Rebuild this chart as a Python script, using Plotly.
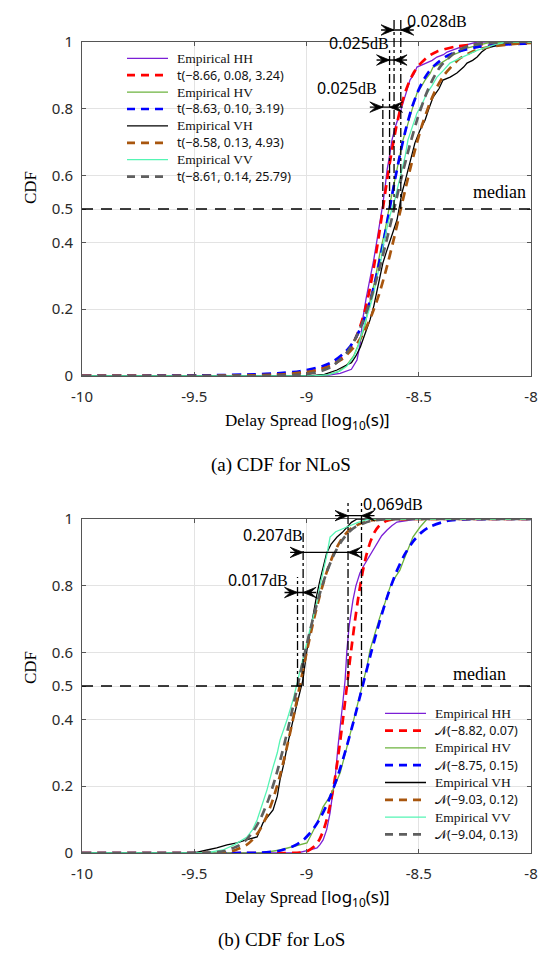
import plotly.graph_objects as go

W, H = 546, 958
SERIF = "Liberation Serif"
SANS = "Noto Sans"

# ---------------- data: NLoS (top) ----------------
nlos_hh_emp_x = [-10, -8.98, -8.90, -8.85, -8.80, -8.785, -8.775, -8.76, -8.75, -8.735, -8.717, -8.70, -8.686, -8.67, -8.66, -8.65, -8.641, -8.63, -8.619, -8.605, -8.592, -8.58, -8.570, -8.555, -8.539, -8.52, -8.508, -8.49, -8.463, -8.44, -8.419, -8.39, -8.374, -8.34, -8.316, -8.28, -8.24, -8.0]
nlos_hh_emp_y = [0, 0, 0.003, 0.008, 0.02, 0.035, 0.048, 0.10, 0.168, 0.23, 0.287, 0.35, 0.407, 0.47, 0.515, 0.565, 0.617, 0.66, 0.707, 0.745, 0.775, 0.795, 0.817, 0.85, 0.886, 0.905, 0.925, 0.93, 0.937, 0.945, 0.955, 0.962, 0.97, 0.978, 0.985, 0.993, 1.0, 1.0]
nlos_hh_fit_x = [-10, -9.46, -9.30, -9.14, -9.06, -8.98, -8.90, -8.86, -8.82, -8.80, -8.78, -8.76, -8.74, -8.72, -8.70, -8.68, -8.66, -8.64, -8.62, -8.60, -8.58, -8.56, -8.54, -8.52, -8.50, -8.46, -8.42, -8.34, -8.26, -8.18, -8.02, -8.0]
nlos_hh_fit_y = [0.0003, 0.001, 0.002, 0.005, 0.008, 0.014, 0.029, 0.044, 0.070, 0.089, 0.115, 0.150, 0.195, 0.254, 0.326, 0.409, 0.5, 0.591, 0.674, 0.746, 0.805, 0.850, 0.885, 0.911, 0.930, 0.956, 0.971, 0.986, 0.992, 0.995, 0.998, 0.998]

nlos_hv_emp_x = [-10, -8.97, -8.90, -8.86, -8.82, -8.79, -8.76, -8.74, -8.726, -8.71, -8.695, -8.673, -8.65, -8.63, -8.615, -8.597, -8.585, -8.570, -8.555, -8.539, -8.52, -8.508, -8.49, -8.472, -8.45, -8.436, -8.41, -8.392, -8.37, -8.347, -8.31, -8.285, -8.24, -8.196, -8.15, -8.11, -8.0]
nlos_hv_emp_y = [0, 0, 0.005, 0.012, 0.033, 0.06, 0.108, 0.15, 0.198, 0.24, 0.287, 0.368, 0.437, 0.51, 0.56, 0.617, 0.66, 0.707, 0.74, 0.775, 0.815, 0.847, 0.865, 0.886, 0.905, 0.925, 0.933, 0.94, 0.95, 0.961, 0.972, 0.982, 0.99, 0.997, 0.999, 1.0, 1.0]
nlos_hv_fit_x = [-10, -9.63, -9.43, -9.23, -9.13, -9.03, -8.93, -8.88, -8.83, -8.805, -8.78, -8.755, -8.73, -8.705, -8.68, -8.655, -8.63, -8.605, -8.58, -8.555, -8.53, -8.505, -8.48, -8.455, -8.43, -8.38, -8.33, -8.23, -8.13, -8.03, -8.0]
nlos_hv_fit_y = [0.0005, 0.001, 0.002, 0.005, 0.008, 0.014, 0.029, 0.044, 0.070, 0.089, 0.115, 0.150, 0.195, 0.254, 0.326, 0.409, 0.5, 0.591, 0.674, 0.746, 0.805, 0.850, 0.885, 0.911, 0.930, 0.956, 0.971, 0.986, 0.992, 0.995, 0.996]

nlos_vh_emp_x = [-10, -8.985, -8.92, -8.864, -8.83, -8.80, -8.78, -8.76, -8.74, -8.717, -8.70, -8.686, -8.67, -8.66, -8.645, -8.628, -8.61, -8.597, -8.585, -8.575, -8.56, -8.548, -8.53, -8.517, -8.495, -8.472, -8.455, -8.436, -8.41, -8.392, -8.36, -8.33, -8.30, -8.285, -8.26, -8.24, -8.22, -8.196, -8.15, -8.107, -8.06, -8.02, -8.0]
nlos_vh_emp_y = [0, 0, 0.005, 0.018, 0.03, 0.04, 0.06, 0.087, 0.125, 0.168, 0.21, 0.257, 0.30, 0.338, 0.37, 0.407, 0.44, 0.467, 0.51, 0.548, 0.585, 0.617, 0.66, 0.698, 0.735, 0.766, 0.80, 0.835, 0.86, 0.886, 0.895, 0.907, 0.925, 0.937, 0.945, 0.955, 0.97, 0.982, 0.99, 0.997, 0.999, 1.0, 1.0]
nlos_vh_fit_x = [-10, -9.36, -9.23, -9.10, -8.97, -8.905, -8.84, -8.775, -8.7425, -8.71, -8.6775, -8.645, -8.6125, -8.58, -8.5475, -8.515, -8.4825, -8.45, -8.4175, -8.385, -8.32, -8.255, -8.19, -8.06, -8.0]
nlos_vh_fit_y = [0.0001, 0.001, 0.002, 0.005, 0.015, 0.027, 0.051, 0.097, 0.133, 0.182, 0.243, 0.319, 0.406, 0.5, 0.594, 0.681, 0.757, 0.818, 0.867, 0.903, 0.949, 0.973, 0.985, 0.995, 0.997]

nlos_vv_emp_x = [-10, -8.97, -8.90, -8.85, -8.82, -8.79, -8.77, -8.75, -8.735, -8.717, -8.70, -8.686, -8.67, -8.66, -8.637, -8.62, -8.606, -8.59, -8.575, -8.56, -8.548, -8.53, -8.508, -8.485, -8.463, -8.44, -8.419, -8.39, -8.361, -8.32, -8.285, -8.24, -8.196, -8.15, -8.107, -8.0]
nlos_vv_emp_y = [0, 0, 0.004, 0.015, 0.03, 0.057, 0.09, 0.138, 0.17, 0.207, 0.25, 0.297, 0.34, 0.386, 0.458, 0.50, 0.53, 0.575, 0.617, 0.66, 0.707, 0.745, 0.787, 0.815, 0.847, 0.87, 0.895, 0.915, 0.937, 0.95, 0.961, 0.975, 0.985, 0.994, 1.0, 1.0]
nlos_vv_fit_x = [-10, -9.31, -9.17, -9.03, -8.96, -8.89, -8.82, -8.785, -8.75, -8.715, -8.68, -8.645, -8.61, -8.575, -8.54, -8.505, -8.47, -8.435, -8.40, -8.33, -8.26, -8.19, -8.05, -8.0]
nlos_vv_fit_y = [0, 0.0001, 0.0003, 0.004, 0.01, 0.027, 0.07, 0.108, 0.161, 0.228, 0.309, 0.401, 0.5, 0.599, 0.691, 0.772, 0.839, 0.892, 0.93, 0.973, 0.992, 0.997, 1.0, 1.0]

nlos_fit_labels = ["t(\u22128.66, 0.08, 3.24)", "t(\u22128.63, 0.10, 3.19)",
                   "t(\u22128.58, 0.13, 4.93)", "t(\u22128.61, 0.14, 25.79)"]
nlos_median_lines = [-8.66, -8.63, -8.61, -8.58]
nlos_line_tops = [0.83, 0.975, 1.068, 1.068]
nlos_gap_labels = ["0.025", "0.025", "0.028"]
nlos_gap_levels = [0.805, 0.946, 1.036]
nlos_gap_label_pos = [(-8.82, 0.862), (-8.766, 0.997), (-8.419, 1.063)]

# ---------------- data: LoS (bottom) ----------------
los_hh_emp_x = [-10, -9.04, -8.98, -8.953, -8.94, -8.926, -8.91, -8.895, -8.885, -8.873, -8.86, -8.842, -8.837, -8.828, -8.82, -8.81, -8.793, -8.78, -8.762, -8.745, -8.73, -8.71, -8.686, -8.665, -8.641, -8.62, -8.597, -8.55, -8.508, -8.0]
los_hh_emp_y = [0, 0, 0.01, 0.015, 0.025, 0.039, 0.07, 0.12, 0.17, 0.219, 0.317, 0.419, 0.458, 0.518, 0.608, 0.68, 0.757, 0.80, 0.838, 0.86, 0.877, 0.90, 0.928, 0.95, 0.967, 0.98, 0.991, 0.995, 1.0, 1.0]
los_hh_fit_x = [-10, -9.10, -9.03, -8.995, -8.96, -8.9425, -8.925, -8.9075, -8.89, -8.8725, -8.855, -8.8375, -8.82, -8.8025, -8.785, -8.7675, -8.75, -8.7325, -8.715, -8.6975, -8.68, -8.645, -8.61, -8.54, -8.0]
los_hh_fit_y = [0, 0, 0.001, 0.006, 0.023, 0.040, 0.067, 0.106, 0.159, 0.227, 0.309, 0.401, 0.5, 0.599, 0.691, 0.773, 0.841, 0.894, 0.933, 0.960, 0.977, 0.994, 0.999, 1.0, 1.0]

los_hv_emp_x = [-10, -9.20, -9.118, -9.05, -8.998, -8.975, -8.953, -8.926, -8.90, -8.882, -8.85, -8.82, -8.79, -8.76, -8.748, -8.73, -8.717, -8.695, -8.673, -8.65, -8.628, -8.605, -8.584, -8.565, -8.548, -8.526, -8.494, -8.463, -8.0]
los_hv_emp_y = [0, 0, 0.009, 0.02, 0.03, 0.06, 0.09, 0.138, 0.165, 0.189, 0.24, 0.317, 0.398, 0.479, 0.518, 0.56, 0.608, 0.66, 0.707, 0.75, 0.796, 0.825, 0.847, 0.88, 0.907, 0.946, 0.976, 1.0, 1.0]
los_hv_fit_x = [-10, -9.35, -9.275, -9.2, -9.125, -9.05, -9.0125, -8.975, -8.9375, -8.9, -8.8625, -8.825, -8.7875, -8.75, -8.7125, -8.675, -8.6375, -8.6, -8.5625, -8.525, -8.4875, -8.45, -8.375, -8.3, -8.15, -8.0]
los_hv_fit_y = [0, 0, 0.0002, 0.001, 0.006, 0.023, 0.040, 0.067, 0.106, 0.159, 0.227, 0.309, 0.401, 0.5, 0.599, 0.691, 0.773, 0.841, 0.894, 0.933, 0.960, 0.977, 0.994, 0.999, 1.0, 1.0]

los_vh_emp_x = [-10, -9.50, -9.443, -9.40, -9.354, -9.31, -9.265, -9.22, -9.194, -9.17, -9.149, -9.13, -9.118, -9.10, -9.087, -9.06, -9.045, -9.029, -9.016, -8.998, -8.985, -8.97, -8.955, -8.94, -8.925, -8.91, -8.89, -8.864, -8.84, -8.82, -8.80, -8.775, -8.0]
los_vh_emp_y = [0, 0, 0.009, 0.015, 0.024, 0.03, 0.04, 0.048, 0.09, 0.11, 0.129, 0.17, 0.219, 0.27, 0.317, 0.398, 0.44, 0.479, 0.518, 0.608, 0.66, 0.718, 0.77, 0.817, 0.86, 0.898, 0.925, 0.946, 0.96, 0.976, 0.99, 1.0, 1.0]
los_vh_fit_x = [-10, -9.51, -9.39, -9.33, -9.27, -9.24, -9.21, -9.18, -9.15, -9.12, -9.09, -9.06, -9.03, -9.0, -8.97, -8.94, -8.91, -8.88, -8.85, -8.82, -8.79, -8.73, -8.67, -8.55, -8.0]
los_vh_fit_y = [0, 0, 0.001, 0.006, 0.023, 0.040, 0.067, 0.106, 0.159, 0.227, 0.309, 0.401, 0.5, 0.599, 0.691, 0.773, 0.841, 0.894, 0.933, 0.960, 0.977, 0.994, 0.999, 1.0, 1.0]

los_vv_emp_x = [-10, -9.45, -9.372, -9.32, -9.265, -9.24, -9.22, -9.20, -9.176, -9.149, -9.13, -9.118, -9.10, -9.087, -9.06, -9.042, -9.03, -9.016, -9.0, -8.985, -8.97, -8.95, -8.94, -8.926, -8.91, -8.895, -8.87, -8.82, -8.77, -8.72, -8.0]
los_vv_emp_y = [0, 0, 0.009, 0.025, 0.048, 0.07, 0.099, 0.14, 0.189, 0.257, 0.30, 0.338, 0.37, 0.398, 0.458, 0.509, 0.55, 0.587, 0.63, 0.668, 0.707, 0.76, 0.80, 0.838, 0.89, 0.946, 0.962, 0.976, 0.99, 1.0, 1.0]
los_vv_fit_x = [-10, -9.56, -9.43, -9.365, -9.30, -9.2675, -9.235, -9.2025, -9.17, -9.1375, -9.105, -9.0725, -9.04, -9.0075, -8.975, -8.9425, -8.91, -8.8775, -8.845, -8.8125, -8.78, -8.715, -8.65, -8.52, -8.0]
los_vv_fit_y = [0, 0, 0.001, 0.006, 0.023, 0.040, 0.067, 0.106, 0.159, 0.227, 0.309, 0.401, 0.5, 0.599, 0.691, 0.773, 0.841, 0.894, 0.933, 0.960, 0.977, 0.994, 0.999, 1.0, 1.0]

los_fit_labels = ["\U0001D4A9(\u22128.82, 0.07)", "\U0001D4A9(\u22128.75, 0.15)",
                  "\U0001D4A9(\u22129.03, 0.12)", "\U0001D4A9(\u22129.04, 0.13)"]
los_median_lines = [-9.04, -9.015, -8.815, -8.755]
los_line_tops = [0.826, 0.958, 1.048, 1.048]
los_gap_labels = ["0.017", "0.207", "0.069"]
los_gap_levels = [0.78, 0.90, 1.01]
los_gap_label_pos = [(-9.216, 0.817), (-9.149, 0.952), (-8.615, 1.045)]

pols = ["HH", "HV", "VH", "VV"]
emp_colors = ["#7B1FD6", "#6DB33F", "#000000", "#55F5B4"]
fit_colors = ["#FF0000", "#0000FF", "#A8560E", "#5F5F5F"]

x_ticks = [-10, -9.5, -9, -8.5, -8]
x_ticktext = ["-10", "-9.5", "-9", "-8.5", "-8"]
y_ticks = [0, 0.2, 0.4, 0.5, 0.6, 0.8, 1]
y_ticktext = ["0", "0.2", "0.4", "0.5", "0.6", "0.8", "1"]

# ---------------- layout geometry (pixels) ----------------
PL, PR = 82, 531
TOP_T, TOP_B = 42, 376
BOT_T, BOT_B = 519, 853
XSPAN = 2.0 / (PR - PL)          # data units per pixel along x
YSPAN_T = 1.0 / (TOP_B - TOP_T)  # domain units per pixel along y


def px_x(p):
    return p / W


def px_y(p):
    return 1 - p / H


fig = go.Figure()

panels = [
    dict(xa="x", ya="y",
         emp=[(nlos_hh_emp_x, nlos_hh_emp_y), (nlos_hv_emp_x, nlos_hv_emp_y),
              (nlos_vh_emp_x, nlos_vh_emp_y), (nlos_vv_emp_x, nlos_vv_emp_y)],
         fit=[(nlos_hh_fit_x, nlos_hh_fit_y), (nlos_hv_fit_x, nlos_hv_fit_y),
              (nlos_vh_fit_x, nlos_vh_fit_y), (nlos_vv_fit_x, nlos_vv_fit_y)],
         labels=nlos_fit_labels, lines=nlos_median_lines, tops=nlos_line_tops,
         gaps=nlos_gap_labels, levels=nlos_gap_levels, gpos=nlos_gap_label_pos,
         leg_x=127, leg_txt=175, leg_y0=58.3, leg_dy=16.9),
    dict(xa="x2", ya="y2",
         emp=[(los_hh_emp_x, los_hh_emp_y), (los_hv_emp_x, los_hv_emp_y),
              (los_vh_emp_x, los_vh_emp_y), (los_vv_emp_x, los_vv_emp_y)],
         fit=[(los_hh_fit_x, los_hh_fit_y), (los_hv_fit_x, los_hv_fit_y),
              (los_vh_fit_x, los_vh_fit_y), (los_vv_fit_x, los_vv_fit_y)],
         labels=los_fit_labels, lines=los_median_lines, tops=los_line_tops,
         gaps=los_gap_labels, levels=los_gap_levels, gpos=los_gap_label_pos,
         leg_x=385, leg_txt=433, leg_y0=713.3, leg_dy=17.3),
]

shapes = []
annotations = []
EMP_W, FIT_W, FIT_DASH = 1.3, 2.7, "9px,6px"

for p in panels:
    row = 0
    for i, pol in enumerate(pols):
        ex, ey = p["emp"][i]
        fx, fy = p["fit"][i]
        fig.add_trace(go.Scatter(
            x=ex, y=ey, mode="lines", xaxis=p["xa"], yaxis=p["ya"], showlegend=False,
            line=dict(color=emp_colors[i], width=EMP_W), name=f"Empirical {pol}"))
        fig.add_trace(go.Scatter(
            x=fx, y=fy, mode="lines", xaxis=p["xa"], yaxis=p["ya"], showlegend=False,
            line=dict(color=fit_colors[i], width=FIT_W, dash=FIT_DASH, shape="spline", smoothing=0.6),
            name=p["labels"][i]))
        # hand-built legend rows (tight spacing like the original)
        for (txt, col, wid, dash, fam, size) in [
                (f"Empirical {pol}", emp_colors[i], EMP_W, "solid", SERIF, 13.5),
                (p["labels"][i], fit_colors[i], FIT_W, "8px,6px", SANS, 12.5)]:
            yy = px_y(p["leg_y0"] + row * p["leg_dy"])
            shapes.append(dict(type="line", xref="paper", yref="paper",
                               x0=px_x(p["leg_x"]), x1=px_x(p["leg_x"] + 41), y0=yy, y1=yy,
                               line=dict(color=col, width=wid, dash=dash)))
            annotations.append(dict(x=px_x(p["leg_txt"]), y=yy, xref="paper", yref="paper",
                                    text=txt, showarrow=False, xanchor="left", yanchor="middle",
                                    font=dict(family=fam, size=size, color="#111111")))
            row += 1

    yd = p["ya"] + " domain"   # y range is [0, 1], so a CDF value equals its domain fraction
    # median line
    shapes.append(dict(type="line", xref=p["xa"], yref=p["ya"], x0=-10, x1=-8, y0=0.5, y1=0.5,
                       line=dict(color="black", width=1.6, dash="11px,8px"), layer="above"))
    # vertical dash-dot lines at medians
    for lx, top in zip(p["lines"], p["tops"]):
        shapes.append(dict(type="line", xref=p["xa"], yref=yd, x0=lx, x1=lx, y0=0.5, y1=top,
                           line=dict(color="black", width=1.3, dash="dashdot"), layer="above"))
    # inward double arrows between consecutive median lines
    L = 13 * XSPAN
    hh = 5.2 * YSPAN_T
    for k, lvl in enumerate(p["levels"]):
        a, b = p["lines"][k], p["lines"][k + 1]
        shapes.append(dict(type="line", xref=p["xa"], yref=yd, x0=a - L, x1=b + L, y0=lvl, y1=lvl,
                           line=dict(color="black", width=1.4), layer="above"))
        right_head = (f"M{a},{lvl} L{a - L},{lvl + hh} L{a - 0.55 * L},{lvl} "
                      f"L{a - L},{lvl - hh} Z")
        left_head = (f"M{b},{lvl} L{b + L},{lvl + hh} L{b + 0.55 * L},{lvl} "
                     f"L{b + L},{lvl - hh} Z")
        for path in (right_head, left_head):
            shapes.append(dict(type="path", xref=p["xa"], yref=yd, path=path,
                               fillcolor="black", line=dict(color="black", width=0.8),
                               layer="above"))
        gx, gy = p["gpos"][k]
        annotations.append(dict(x=gx, y=gy, xref=p["xa"], yref=yd, showarrow=False,
                                text=f'<span style="font-family:{SANS}">{p["gaps"][k]}</span>'
                                     f'<span style="font-family:{SERIF}">dB</span>',
                                font=dict(size=16, color="black"), xanchor="center", yanchor="middle"))

# median labels
annotations.append(dict(x=-8.14, y=0.55, xref="x", yref="y", text="median", showarrow=False,
                        font=dict(family=SERIF, size=18, color="black")))
annotations.append(dict(x=-8.23, y=0.537, xref="x2", yref="y2", text="median", showarrow=False,
                        font=dict(family=SERIF, size=18, color="black")))

xtitle = (f'<span style="font-family:{SERIF}">Delay Spread [</span>'
          f'<span style="font-family:{SANS}">log<sub>10</sub>(s)]</span>')
for (ty, cy, cap_y, cap) in [(420, 188, 465, "(a) CDF for NLoS"), (897, 668, 940, "(b) CDF for LoS")]:
    annotations.append(dict(x=px_x(307), y=px_y(ty), xref="paper", yref="paper", text=xtitle,
                            showarrow=False, font=dict(size=17, color="black"),
                            xanchor="center", yanchor="middle"))
    annotations.append(dict(x=px_x(30), y=px_y(cy), xref="paper", yref="paper", text="CDF",
                            textangle=-90, showarrow=False,
                            font=dict(family=SERIF, size=17, color="black"),
                            xanchor="center", yanchor="middle"))
    annotations.append(dict(x=px_x(281), y=px_y(cap_y), xref="paper", yref="paper", text=cap,
                            showarrow=False, font=dict(family=SERIF, size=19, color="black"),
                            xanchor="center", yanchor="middle"))

axis_common = dict(showline=True, linecolor="#555555", linewidth=1, mirror="ticks",
                   ticks="inside", ticklen=4, tickcolor="#555555", zeroline=False,
                   showgrid=True, gridcolor="#E3E3E3", gridwidth=1, automargin=False,
                   tickfont=dict(family=SANS, size=15, color="#2A2A2A"))

xdom = [px_x(PL), px_x(PR)]
fig.update_layout(
    width=W, height=H, margin=dict(l=0, r=0, t=0, b=0, autoexpand=False),
    paper_bgcolor="white", plot_bgcolor="white", showlegend=False,
    xaxis=dict(domain=xdom, range=[-10, -8], tickvals=x_ticks, ticktext=x_ticktext,
               anchor="y", ticklabelstandoff=7, **axis_common),
    yaxis=dict(domain=[px_y(TOP_B), px_y(TOP_T)], range=[0, 1], tickvals=y_ticks,
               ticktext=y_ticktext, anchor="x", ticklabelstandoff=5, **axis_common),
    xaxis2=dict(domain=xdom, range=[-10, -8], tickvals=x_ticks, ticktext=x_ticktext,
                anchor="y2", ticklabelstandoff=7, **axis_common),
    yaxis2=dict(domain=[px_y(BOT_B), px_y(BOT_T)], range=[0, 1], tickvals=y_ticks,
                ticktext=y_ticktext, anchor="x2", ticklabelstandoff=5, **axis_common),
    shapes=shapes, annotations=annotations,
)

# remove the browser's default page margin so the figure sits at the window origin
fig.write_html("out.html", config={"displayModeBar": False},
               post_script="document.body.style.margin='0';document.body.style.padding='0';")
